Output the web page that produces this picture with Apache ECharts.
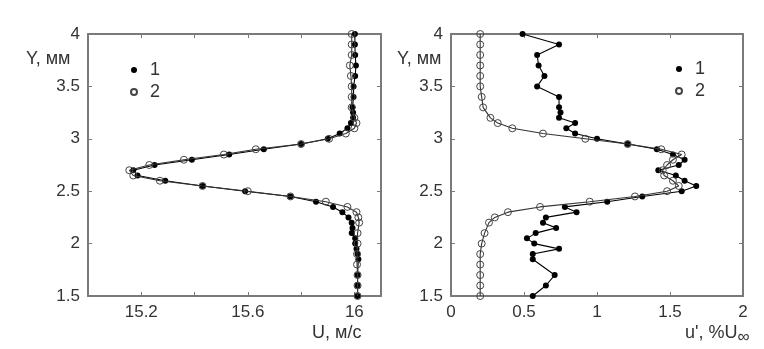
<!DOCTYPE html>
<html>
<head>
<meta charset="utf-8">
<script src="https://cdn.jsdelivr.net/npm/echarts@6/dist/echarts.min.js"></script>
<style>
  html, body { margin: 0; padding: 0; background: #fff; }
  #chart { width: 764px; height: 349px; }
</style>
</head>
<body>
<div id="chart"></div>
<script>
// Mean velocity profile U(Y), series 1 (filled) and 2 (open)
const yMean1 = [4.0, 3.9, 3.8, 3.7, 3.6, 3.5, 3.4, 3.3, 3.25, 3.2, 3.15, 3.1, 3.05, 3.0, 2.95, 2.9, 2.85, 2.8, 2.75, 2.7,
                2.65, 2.6, 2.55, 2.5, 2.45, 2.4, 2.35, 2.3, 2.25, 2.2, 2.15, 2.1, 2.05, 2.0, 1.95, 1.9, 1.85, 1.7, 1.6, 1.5];
const uMean1 = [16.002, 16.002, 16.003, 16.006, 16.003, 15.997, 15.997, 15.993, 15.995, 15.995, 15.987, 15.974, 15.945, 15.90, 15.80, 15.66, 15.53, 15.39, 15.25, 15.17,
                15.186, 15.29, 15.43, 15.59, 15.76, 15.856, 15.92, 15.955, 15.978, 15.99, 15.993, 15.99, 16.003, 16.003, 16.008, 16.012, 16.015, 16.012, 16.012, 16.012];
const yMean2 = [4.0, 3.9, 3.8, 3.7, 3.6, 3.5, 3.4, 3.3, 3.2, 3.15, 3.1, 3.05, 3.0, 2.95, 2.9, 2.85, 2.8, 2.75, 2.7,
                2.65, 2.6, 2.55, 2.5, 2.45, 2.4, 2.35, 2.3, 2.25, 2.2, 2.1, 2.0, 1.9, 1.8, 1.7, 1.6, 1.5];
const uMean2 = [15.99, 15.99, 15.99, 15.983, 15.987, 15.99, 15.99, 15.99, 16.0, 16.008, 16.0, 15.968, 15.905, 15.80, 15.63, 15.51, 15.36, 15.23, 15.155,
                15.17, 15.27, 15.43, 15.60, 15.76, 15.893, 15.974, 16.008, 16.015, 16.018, 16.012, 16.012, 16.01, 16.01, 16.012, 16.012, 16.012];

// Velocity fluctuation profile u'(Y), % of U∞
const yRms1 = yMean1;
const uRms1 = [0.49, 0.74, 0.59, 0.60, 0.64, 0.59, 0.74, 0.74, 0.75, 0.74, 0.85, 0.79, 0.85, 1.00, 1.21, 1.41, 1.52, 1.60, 1.56, 1.42,
               1.54, 1.60, 1.68, 1.58, 1.31, 1.07, 0.78, 0.86, 0.65, 0.63, 0.72, 0.58, 0.52, 0.57, 0.74, 0.56, 0.56, 0.71, 0.65, 0.56];
const yRms2 = yMean2;
const uRms2 = [0.20, 0.20, 0.20, 0.20, 0.20, 0.20, 0.21, 0.22, 0.27, 0.32, 0.42, 0.63, 0.92, 1.21, 1.44, 1.58, 1.52, 1.48, 1.45,
               1.46, 1.52, 1.56, 1.48, 1.26, 0.95, 0.61, 0.39, 0.30, 0.26, 0.23, 0.21, 0.20, 0.20, 0.20, 0.20, 0.20];

// Tick labels
const uTickLabels = [15.2, 15.6, 16];
const rmsTickLabels = [0, 0.5, 1, 1.5, 2];
const yTickLabels = [1.5, 2, 2.5, 3, 3.5, 4];
const seriesNames = ['1', '2'];

const pairs = (xs, ys) => xs.map((x, i) => [x, ys[i]]);

const frameColor = '#7a7a7a';
const textColor = '#333';
const fontFamily = 'Liberation Sans, Arial, sans-serif';
const fontSize = 17;

function xAxisPair(gridIndex, min, max, interval, labels) {
  const base = {
    type: 'value', gridIndex, min, max, interval,
    splitLine: { show: false },
    axisLine: { show: true, onZero: false, lineStyle: { color: frameColor, width: 2 } },
    axisTick: { show: true, inside: true, length: 4, lineStyle: { color: frameColor, width: 1 } }
  };
  return [
    Object.assign({}, base, {
      position: 'bottom',
      axisLabel: {
        show: true, margin: 8, color: textColor, fontSize, fontFamily,
        formatter: v => labels.some(t => Math.abs(t - v) < 1e-6) ? String(+v.toFixed(1)) : ''
      }
    }),
    Object.assign({}, base, { position: 'top', axisLabel: { show: false } })
  ];
}

function yAxisPair(gridIndex) {
  const base = {
    type: 'value', gridIndex, min: 1.5, max: 4, interval: 0.5,
    splitLine: { show: false },
    axisLine: { show: true, onZero: false, lineStyle: { color: frameColor, width: 2 } },
    axisTick: { show: true, inside: true, length: 4, lineStyle: { color: frameColor, width: 1 } }
  };
  return [
    Object.assign({}, base, {
      position: 'left',
      axisLabel: {
        show: true, margin: 8, color: textColor, fontSize, fontFamily,
        formatter: v => yTickLabels.some(t => Math.abs(t - v) < 1e-6) ? String(v) : ''
      }
    }),
    Object.assign({}, base, { position: 'right', axisLabel: { show: false } })
  ];
}

function filledSeries(name, xAxisIndex, yAxisIndex, data) {
  return {
    name, type: 'line', xAxisIndex, yAxisIndex, data,
    symbol: 'circle', symbolSize: 6, showSymbol: true,
    lineStyle: { color: '#000', width: 1.1 },
    itemStyle: { color: '#000', borderColor: '#000', borderWidth: 0 },
    z: 3
  };
}
function openSeries(name, xAxisIndex, yAxisIndex, data) {
  return {
    name, type: 'line', xAxisIndex, yAxisIndex, data,
    symbol: 'circle', symbolSize: 7, showSymbol: true,
    lineStyle: { color: '#333', width: 1.1 },
    itemStyle: { color: 'rgba(255,255,255,0)', borderColor: '#444', borderWidth: 1 },
    z: 4
  };
}

const [xb0, xt0] = xAxisPair(0, 15.0, 16.1, 0.2, uTickLabels);
const [xb1, xt1] = xAxisPair(1, 0, 2, 0.5, rmsTickLabels);
const [yl0, yr0] = yAxisPair(0);
const [yl1, yr1] = yAxisPair(1);

const legendBase = {
  orient: 'vertical', icon: 'circle', itemWidth: 6, itemHeight: 6, itemGap: 4,
  textStyle: { color: textColor, fontSize: 18, fontFamily, padding: [0, 0, 0, 8] },
  data: seriesNames
};

const option = {
  animation: false,
  backgroundColor: '#fff',
  grid: [
    { left: 88, top: 34, width: 293, height: 262 },
    { left: 451, top: 34, width: 292, height: 262 }
  ],
  xAxis: [xb0, xt0, xb1, xt1],
  yAxis: [yl0, yr0, yl1, yr1],
  legend: [
    Object.assign({}, legendBase, { left: 125, top: 56 }),
    Object.assign({}, legendBase, { left: 670, top: 55 })
  ],
  series: [
    filledSeries(seriesNames[0], 0, 0, pairs(uMean1, yMean1)),
    openSeries(seriesNames[1], 0, 0, pairs(uMean2, yMean2)),
    filledSeries(seriesNames[0], 2, 2, pairs(uRms1, yRms1)),
    openSeries(seriesNames[1], 2, 2, pairs(uRms2, yRms2))
  ],
  graphic: [
    { type: 'text', left: 26, top: 50, style: { text: 'Y, мм', fill: textColor, font: '18px ' + fontFamily } },
    { type: 'text', left: 397, top: 50, style: { text: 'Y, мм', fill: textColor, font: '18px ' + fontFamily } },
    { type: 'text', left: 312, top: 324, style: { text: 'U, м/с', fill: textColor, font: '18px ' + fontFamily } },
    { type: 'text', left: 685, top: 324, style: {
        text: "u', %U{sub|∞}", fill: textColor, font: '18px ' + fontFamily,
        rich: { sub: { fontSize: 17, fontFamily, fill: textColor, padding: [8, 0, 0, 0] } }
      } }
  ]
};

const chart = echarts.init(document.getElementById('chart'), null, { renderer: 'canvas' });
chart.setOption(option);
</script>
</body>
</html>
